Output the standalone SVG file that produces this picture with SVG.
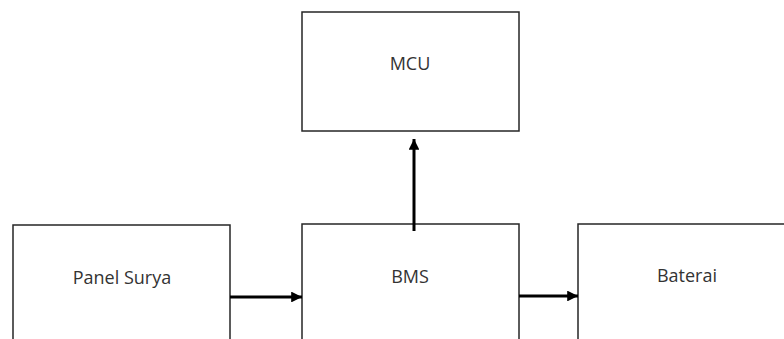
<svg xmlns="http://www.w3.org/2000/svg" width="784" height="339" viewBox="0 0 784 339">
<style>
.box{fill:#fff;stroke:#262626;stroke-width:1.5}
.lbl{font-family:"Open Sans","Noto Sans",sans-serif;font-size:18px;fill:#333;text-anchor:middle}
.conn{stroke:#000;stroke-width:3;fill:none}
</style>
<defs>
<marker id="ah" viewBox="0 0 10 10" refX="10" refY="5" markerWidth="3.6" markerHeight="3.6" orient="auto" markerUnits="strokeWidth">
<path d="M0,0 L10,5 L0,10 z" fill="#000"/>
</marker>
</defs>
<rect width="784" height="339" fill="#fff"/>
<g id="mcu"><rect class="box" x="302" y="12" width="217" height="119"/><text class="lbl" x="410" y="70">MCU</text></g>
<g id="panel-surya"><rect class="box" x="13" y="225" width="217" height="130"/><text class="lbl" x="122" y="284">Panel Surya</text></g>
<g id="bms"><rect class="box" x="302" y="224" width="217" height="130"/><text class="lbl" x="410" y="283">BMS</text></g>
<g id="baterai"><rect class="box" x="578" y="224" width="230" height="130"/><text class="lbl" x="687" y="282">Baterai</text></g>
<g id="connectors">
<line class="conn" x1="230" y1="297" x2="302" y2="297" marker-end="url(#ah)"/>
<line class="conn" x1="519" y1="296" x2="578" y2="296" marker-end="url(#ah)"/>
<line class="conn" x1="414" y1="231" x2="414" y2="139" marker-end="url(#ah)"/>
</g>
</svg>
